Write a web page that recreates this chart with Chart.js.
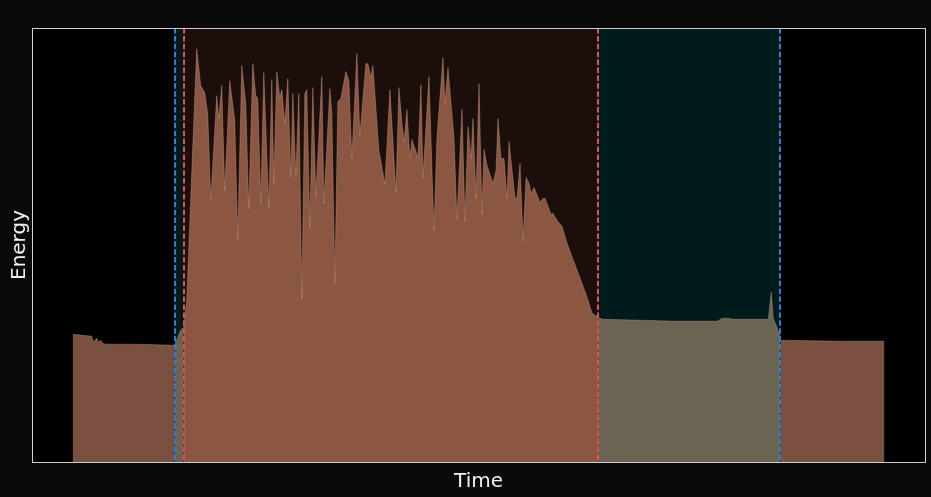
<!DOCTYPE html>
<html>
<head>
<meta charset="utf-8">
<script src="https://cdn.jsdelivr.net/npm/chart.js@4.4.1/dist/chart.umd.min.js"></script>
<style>
  html, body { margin: 0; padding: 0; background: #0a0a0a; }
  #chart { display: block; }
</style>
</head>
<body>
<canvas id="chart" width="931" height="497"></canvas>
<script>
// Energy trace, split in phases (time in s, energy in arbitrary units)
const preTime   = [0.0, 1.9, 2.1, 2.4, 2.6, 2.8, 3.0, 3.3, 6.0, 10.2]
const preEnergy = [128, 126, 120, 124, 120, 122, 119, 118, 118, 117]

const rampTime   = [10.2, 10.5, 10.8, 11.1]
const rampEnergy = [117, 125, 132, 135]

const activeTime = [
  11.1, 11.4, 11.9, 12.4, 12.8, 13.2, 13.5, 13.8, 14.4, 14.6, 14.9, 15.2, 15.7, 16.2, 16.5,
  16.9, 17.3, 17.6, 18.0, 18.3, 18.5, 18.8, 19.1, 19.3, 19.6, 19.9, 20.1, 20.4, 20.7, 20.9,
  21.2, 21.5, 21.8, 22.0, 22.3, 22.6, 22.9, 23.2, 23.4, 23.7, 24.0, 24.3, 24.9, 25.1, 25.7,
  25.9, 26.2, 26.5, 26.8, 27.3, 27.6, 27.9, 28.4, 28.7, 29.3, 29.5, 29.8, 30.0, 30.6, 31.2,
  31.7, 32.0, 32.3, 32.6, 32.9, 33.1, 33.4, 33.7, 33.9, 34.5, 34.8, 35.0, 35.6, 36.1, 36.4,
  37.0, 37.2, 37.5, 38.1, 38.4, 38.9, 39.2, 39.5, 39.8, 40.0, 40.3, 40.6, 40.9, 41.1, 41.4,
  42.0, 42.3, 42.5, 42.8, 43.1, 43.4, 43.6, 44.2, 44.4, 44.7, 45.0, 45.3, 45.6, 45.8, 46.1,
  46.7, 47.0, 47.2, 47.8, 48.0, 48.4, 48.9, 49.4, 50.4, 51.4, 51.9, 52.5
]
const activeEnergy = [
  135, 162, 289, 414, 377, 370, 349, 262, 367, 344, 377, 272, 382, 342, 223,
  397, 359, 254, 399, 367, 364, 259, 390, 337, 255, 383, 279, 391, 365, 373,
  339, 384, 285, 369, 287, 369, 163, 369, 373, 235, 375, 266, 386, 259, 374,
  350, 179, 361, 364, 391, 382, 304, 409, 327, 399, 399, 385, 397, 312, 279,
  373, 322, 270, 375, 340, 320, 353, 304, 323, 305, 378, 285, 386, 232, 325,
  405, 359, 395, 325, 243, 353, 241, 336, 304, 344, 264, 379, 248, 313, 297,
  279, 292, 344, 304, 304, 264, 321, 264, 265, 299, 222, 285, 279, 269, 275,
  260, 264, 264, 248, 249, 242, 236, 219, 192, 165, 149, 145
]

const recoveryTime   = [52.5, 52.9, 56.7, 60.0, 64.4, 64.9, 65.4, 66.0, 69.5, 69.8, 70.0, 70.4, 70.7]
const recoveryEnergy = [145, 143, 142, 141, 141, 144, 144, 143, 143, 170, 144, 134, 125]

const postTime   = [70.7, 76.7, 81.1]
const postEnergy = [122, 121, 121]

// event markers: outer window (blue) and inner window (red)
const outerWindow = [10.2, 70.7]
const innerWindow = [11.1, 52.5]

const toPoints = (xs, ys) => xs.map((x, i) => ({ x, y: ys[i] }))

const allTime = [...preTime, ...activeTime, ...recoveryTime, ...postTime]
const allEnergy = [...preEnergy, ...activeEnergy, ...recoveryEnergy, ...postEnergy]
const tMin = Math.min(...allTime)
const tMax = Math.max(...allTime)
const tPad = (tMax - tMin) * 0.05
const eMax = Math.max(...allEnergy) * 1.05

const EDGE = 'rgba(215,175,155,0.35)'

function areaSet(xs, ys, color) {
  return {
    data: toPoints(xs, ys),
    showLine: true,
    fill: 'origin',
    backgroundColor: color,
    borderColor: EDGE,
    borderWidth: 1,
    pointRadius: 0,
    tension: 0,
  }
}

const backdrop = {
  id: 'backdrop',
  beforeDatasetsDraw(chart) {
    const { ctx, chartArea: a, scales: { x } } = chart
    ctx.save()
    ctx.fillStyle = '#000000'
    ctx.fillRect(a.left, a.top, a.right - a.left, a.bottom - a.top)
    ctx.fillStyle = '#001b1b'
    const o0 = x.getPixelForValue(outerWindow[0]), o1 = x.getPixelForValue(outerWindow[1])
    ctx.fillRect(o0, a.top, o1 - o0, a.bottom - a.top)
    ctx.fillStyle = '#1c0e0a'
    const i0 = x.getPixelForValue(innerWindow[0]), i1 = x.getPixelForValue(innerWindow[1])
    ctx.fillRect(i0, a.top, i1 - i0, a.bottom - a.top)
    ctx.restore()
  },
  afterDatasetsDraw(chart) {
    const { ctx, chartArea: a, scales: { x } } = chart
    ctx.save()
    ctx.lineWidth = 2
    ctx.setLineDash([5.5, 2.4])
    const vline = (t, color) => {
      const px = Math.round(x.getPixelForValue(t))
      ctx.strokeStyle = color
      ctx.beginPath()
      ctx.moveTo(px, a.top)
      ctx.lineTo(px, a.bottom)
      ctx.stroke()
    }
    outerWindow.forEach(t => vline(t, '#2a7fd4'))
    innerWindow.forEach(t => vline(t, '#dc5252'))
    ctx.setLineDash([])
    // axes frame
    ctx.strokeStyle = '#d0d0d0'
    ctx.lineWidth = 1
    ctx.strokeRect(a.left + 0.5, a.top + 0.5, a.right - a.left, a.bottom - a.top)
    ctx.restore()
  }
}

new Chart(document.getElementById('chart'), {
  type: 'scatter',
  data: {
    datasets: [
      areaSet(preTime, preEnergy, '#7a5040'),
      areaSet(rampTime, rampEnergy, '#6a6352'),
      areaSet(activeTime, activeEnergy, '#8b5642'),
      areaSet(recoveryTime, recoveryEnergy, '#6b6452'),
      areaSet(postTime, postEnergy, '#7a5040'),
    ]
  },
  options: {
    responsive: false,
    animation: false,
    devicePixelRatio: 1,
    layout: { padding: { top: 28, right: 6, left: 0, bottom: 0 } },
    plugins: { legend: { display: false }, tooltip: { enabled: false } },
    scales: {
      x: {
        type: 'linear',
        min: tMin - tPad,
        max: tMax + tPad,
        grid: { display: false, drawTicks: false, tickLength: 0 },
        border: { display: false },
        ticks: { display: false },
        title: {
          display: true, text: 'Time', color: '#f2f2f2',
          font: { family: 'DejaVu Sans', size: 20 },
          padding: { top: 7.5, bottom: 3.5 }
        }
      },
      y: {
        min: 0,
        max: eMax,
        grid: { display: false, drawTicks: false, tickLength: 0 },
        border: { display: false },
        ticks: { display: false },
        title: {
          display: true, text: 'Energy', color: '#f2f2f2',
          font: { family: 'DejaVu Sans', size: 20 },
          padding: { top: 7.5, bottom: 0.5 }
        }
      }
    }
  },
  plugins: [backdrop]
})
</script>
</body>
</html>
